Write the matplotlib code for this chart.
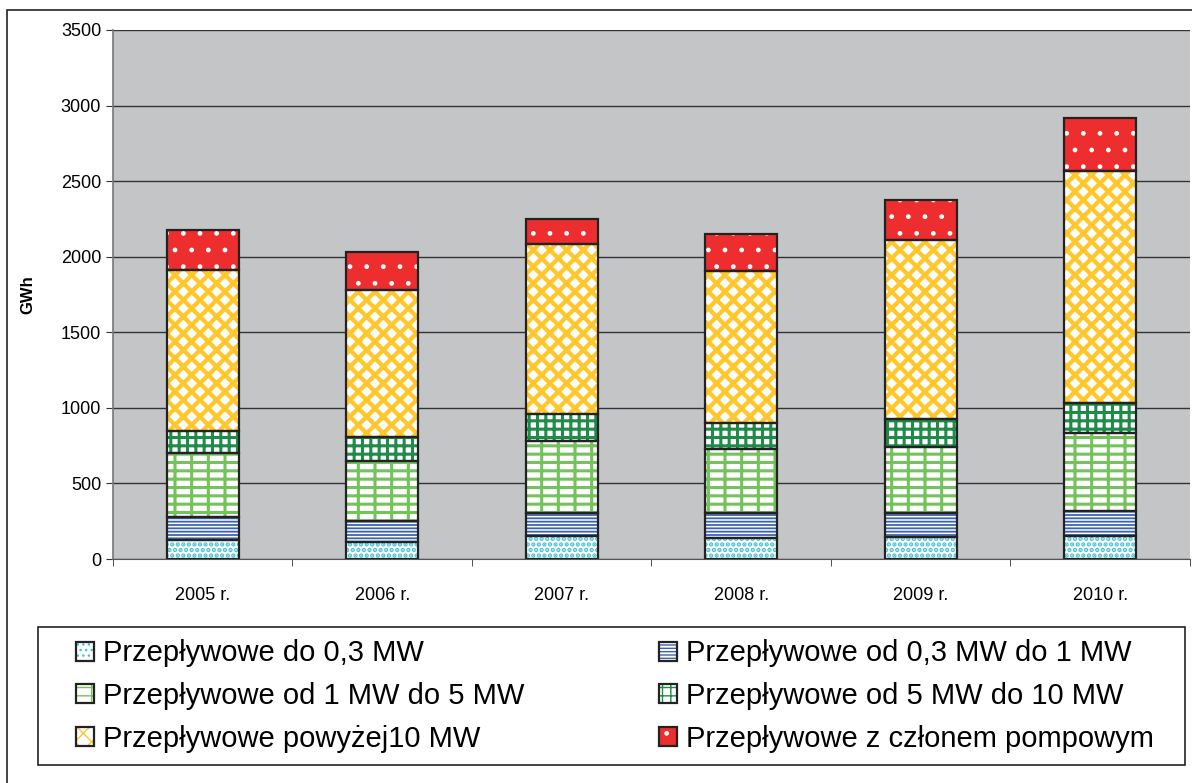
import numpy as np
import matplotlib
matplotlib.use('Agg')
from matplotlib import pyplot as plt
from matplotlib.patches import Rectangle

plt.rcParams['font.family'] = ['Liberation Sans', 'DejaVu Sans']
plt.rcParams['hatch.linewidth'] = 1.6

years = ['2005 r.', '2006 r.', '2007 r.', '2008 r.', '2009 r.', '2010 r.']

# GWh
do_03 = [126, 112, 152, 139, 146, 152]
od_03_do_1 = [152, 139, 152, 165, 158, 166]
od_1_do_5 = [423, 398, 477, 424, 437, 516]
od_5_do_10 = [146, 158, 179, 172, 186, 198]
pow_10 = [1065, 973, 1125, 1006, 1184, 1536]
pompowe = [265, 252, 165, 245, 265, 351]

labels = ['Przepływowe do 0,3 MW', 'Przepływowe od 0,3 MW do 1 MW',
          'Przepływowe od 1 MW do 5 MW', 'Przepływowe od 5 MW do 10 MW',
          'Przepływowe powyżej10 MW', 'Przepływowe z członem pompowym']

series = [do_03, od_03_do_1, od_1_do_5, od_5_do_10, pow_10, pompowe]
# (face, hatch, hatch colour, hatch linewidth)
styles = [('white', '...', '#45C3D5', 2.2),
          ('white', '-----', '#3B63B5', 1.3),
          ('white', '+-', '#74C25A', 2.2),
          ('white', '++', '#1E8B48', 2.2),
          ('white', 'xx', '#FFC72C', 3.1),
          ('#EE2E2E', '.', 'white', 1.0)]

fig = plt.figure(figsize=(11.92, 7.83), dpi=100)
ax = fig.add_axes([0.0948, 0.286, 0.9035, 0.6757])
ax.set_facecolor('#C4C5C7')

x = np.arange(len(years))
bottom = np.zeros(len(years))
handles = []
for vals, (fc, h, hc, hlw) in zip(series, styles):
    vals = np.array(vals)
    plt.rcParams['hatch.linewidth'] = hlw
    hb = ax.bar(x, vals, 0.4, bottom=bottom, color=fc, hatch=h,
                edgecolor=hc, linewidth=0, zorder=2)
    for p in hb.patches:
        if hasattr(p, 'set_hatch_linewidth'):
            p.set_hatch_linewidth(hlw)
    ob = ax.bar(x, vals, 0.4, bottom=bottom, fill=False,
                edgecolor='#222222', linewidth=1.6, zorder=3)
    handles.append((hb.patches[0], ob.patches[0]))
    bottom += vals

ax.set_ylim(0, 3500)
ax.set_xlim(-0.5, len(years) - 0.5)
ax.set_yticks(np.arange(0, 3501, 500))
ax.yaxis.grid(True, color='#333333', linewidth=1)
ax.set_axisbelow(True)
ax.set_xticks(x)
ax.set_xticklabels(years, fontsize=13)
ax.set_xticks(np.arange(-0.5, len(years)), minor=True)
ax.tick_params(axis='x', which='major', length=0, pad=20)
ax.tick_params(axis='x', which='minor', length=5, color='#333333')
ax.tick_params(axis='y', labelsize=13, length=5, color='#333333')
for s in ['top', 'right']:
    ax.spines[s].set_visible(False)
ax.spines['left'].set_color('#777777')
ax.spines['bottom'].set_color('#555555')
ax.spines['left'].set_linewidth(1.2)
ax.set_ylabel('GWh', fontsize=12, fontweight='bold', labelpad=18)

# legend order fills columns first
order = [0, 2, 4, 1, 3, 5]
leg = fig.legend([handles[i] for i in order], [labels[i] for i in order],
                 ncol=2, loc='center left',
                 bbox_to_anchor=(76 / 1192, (783 - 765) / 783, 1078 / 1192, 138 / 783),
                 mode='expand', fontsize=21, frameon=False,
                 handlelength=0.62, handleheight=0.62,
                 handletextpad=0.3, labelspacing=0.5, borderpad=0,
                 borderaxespad=0, columnspacing=1.0)

# legend frame
fig.patches.append(Rectangle((38 / 1192, (783 - 765) / 783), 1147 / 1192, 138 / 783,
                             transform=fig.transFigure, fill=False,
                             edgecolor='#222222', linewidth=1.2))
# outer chart border
fig.patches.append(Rectangle((7 / 1192, -0.05), 1.1, 0.05 + (783 - 10) / 783,
                             transform=fig.transFigure, fill=False,
                             edgecolor='#222222', linewidth=1.2))

plt.savefig('out.png', dpi=100)
